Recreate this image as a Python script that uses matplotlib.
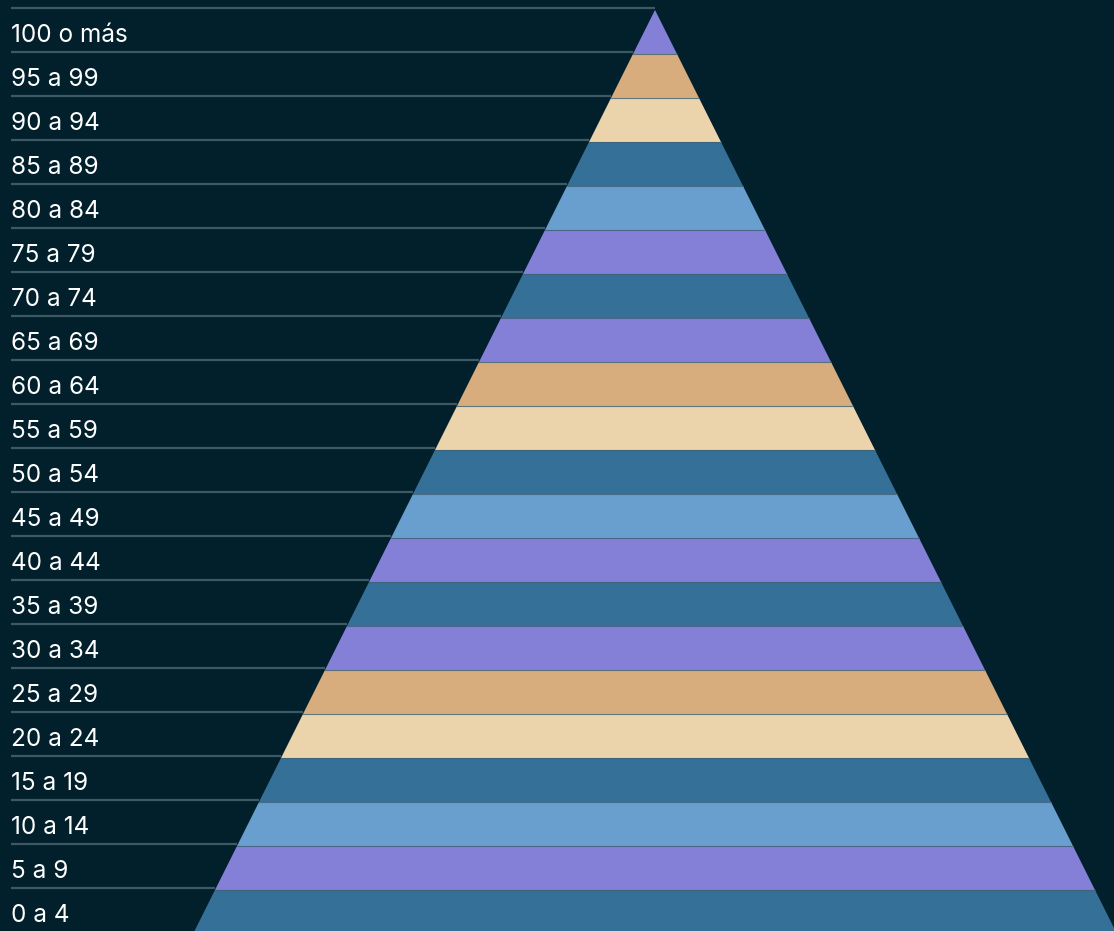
import numpy as np
import matplotlib.pyplot as plt
from matplotlib.patches import Polygon

# === Data: age groups, top to bottom, and their band colours ===
age_groups = ['100 o más', '95 a 99', '90 a 94', '85 a 89', '80 a 84', '75 a 79',
              '70 a 74', '65 a 69', '60 a 64', '55 a 59', '50 a 54', '45 a 49',
              '40 a 44', '35 a 39', '30 a 34', '25 a 29', '20 a 24', '15 a 19',
              '10 a 14', '5 a 9', '0 a 4']

PURPLE, TAN, CREAM, DARK, LIGHT = '#8580d7', '#d8ad7e', '#ebd3ab', '#347097', '#689fcf'
band_colors = [PURPLE, TAN, CREAM, DARK, LIGHT, PURPLE,
               DARK, PURPLE, TAN, CREAM, DARK, LIGHT,
               PURPLE, DARK, PURPLE, TAN, CREAM, DARK,
               LIGHT, PURPLE, DARK]

BG = '#02202b'
GRID = '#3d5963'

# === Geometry (in band units) ===
px = 44.0                    # pixels per band
W, H = 1114, 931
apex_x = 655 / px
top_y = -10 / px
slope = 0.5                  # half-width per unit of depth

fig = plt.figure(figsize=(W / 100, H / 100), dpi=100, facecolor=BG)
ax = fig.add_axes([0, 0, 1, 1])
ax.set_facecolor(BG)
ax.set_xlim(0, W / px)
ax.set_ylim(top_y + H / px, top_y)
ax.axis('off')

for k, (label, col) in enumerate(zip(age_groups, band_colors)):
    y0, y1 = k, k + 1
    h0, h1 = slope * y0, slope * y1
    poly = Polygon([(apex_x - h0, y0), (apex_x + h0, y0),
                    (apex_x + h1, y1), (apex_x - h1, y1)],
                   closed=True, facecolor=col, edgecolor='none', zorder=2)
    ax.add_patch(poly)
    # thin divider across the band top
    if k > 0:
        ax.plot([apex_x - h0, apex_x + h0], [y0, y0], color='#3e6076',
                linewidth=0.8, alpha=0.8, zorder=3)
    # guide line from left edge to the triangle
    ax.plot([11 / px, apex_x - h0], [y0 - 2 / px, y0 - 2 / px], color=GRID,
            linewidth=1.6, zorder=1, solid_capstyle='butt')
    ax.text(11 / px, k + 0.5 + 4 / px, label, color='white', fontsize=17.5,
            family=['Inter', 'DejaVu Sans'], va='center', ha='left', zorder=4)

fig.savefig('out.png', dpi=100, facecolor=BG)
